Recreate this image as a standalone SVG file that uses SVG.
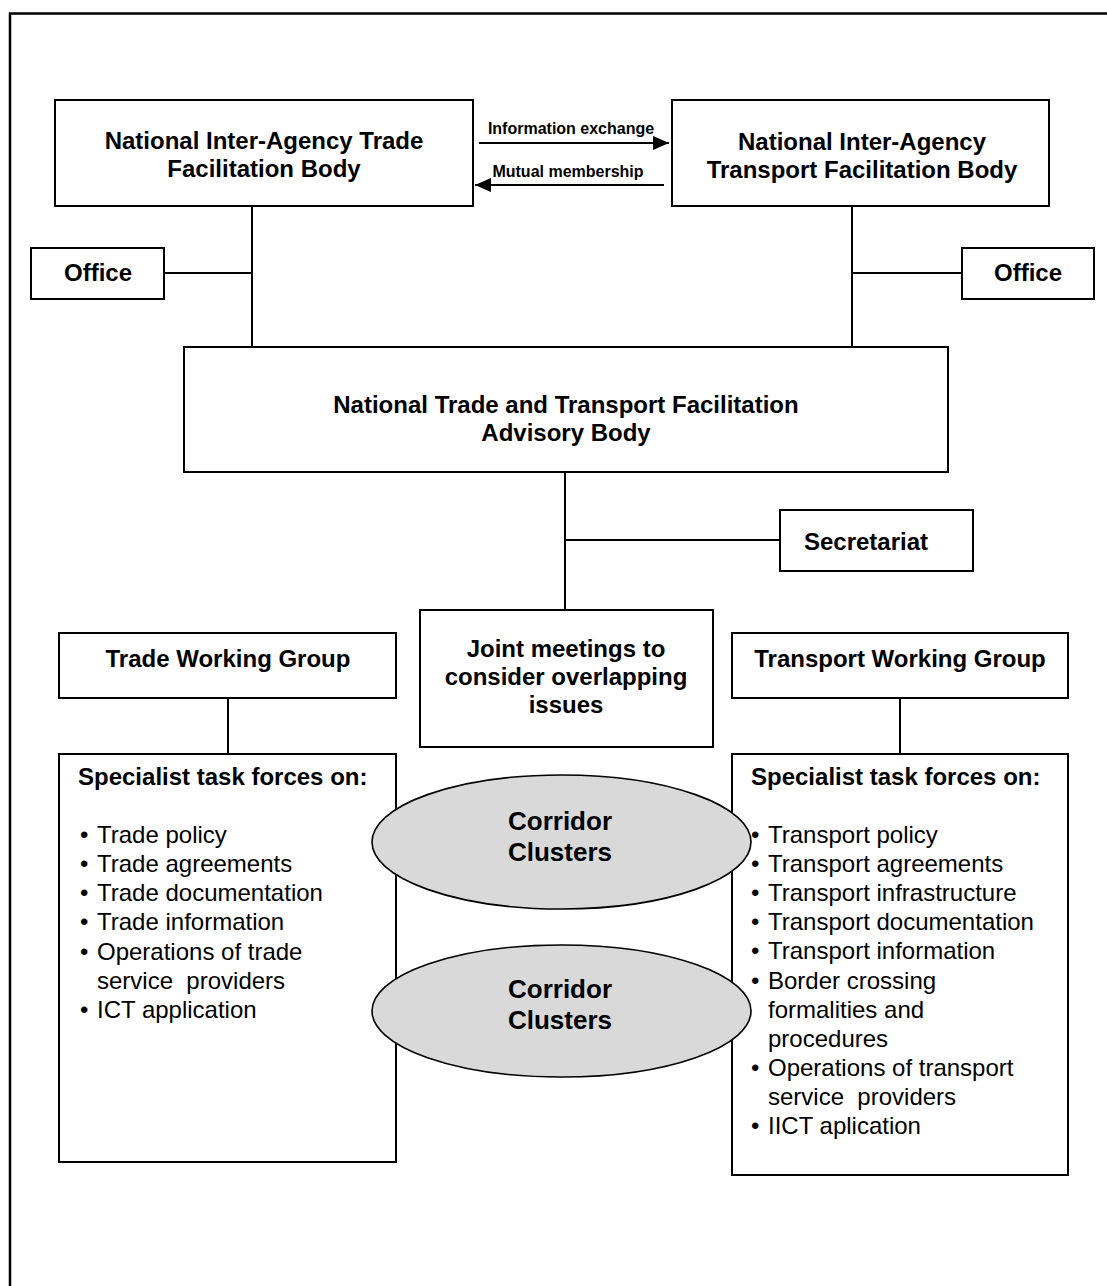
<svg xmlns="http://www.w3.org/2000/svg" width="1107" height="1286" viewBox="0 0 1107 1286">
  <defs>
    <style>
      .box { fill: #ffffff; stroke: #000000; stroke-width: 2; }
      .link { stroke: #000000; stroke-width: 2; fill: none; }
      .frame { stroke: #000000; stroke-width: 2.5; fill: none; }
      .oval { fill: #d9d9d9; stroke: #000000; stroke-width: 1.6; }
      .t { font-family: "Liberation Sans", Arial, sans-serif; font-size: 24px; fill: #000000; }
      .b { font-weight: bold; }
      .c { text-anchor: middle; }
      .lbl { font-family: "Liberation Sans", Arial, sans-serif; font-size: 16px; font-weight: bold; fill: #000000; text-anchor: middle; }
      .oc { font-family: "Liberation Sans", Arial, sans-serif; font-size: 26px; font-weight: bold; fill: #000000; text-anchor: middle; }
    </style>
    <marker id="head" viewBox="0 0 10 10" refX="10" refY="5" markerWidth="8" markerHeight="8" markerUnits="userSpaceOnUse" orient="auto">
      <path d="M0,0 L10,5 L0,10 z" fill="#000000"/>
    </marker>
    <marker id="arrow" viewBox="0 0 16 14" refX="16" refY="7" markerWidth="16" markerHeight="14" markerUnits="userSpaceOnUse" orient="auto">
      <path d="M0,0 L16,7 L0,14 z" fill="#000000"/>
    </marker>
  </defs>

  <!-- page frame: top and left rules only -->
  <path class="frame" d="M10,1286 V13.5 H1107"/>

  <!-- connectors -->
  <g id="connectors">
    <line class="link" x1="479" y1="143" x2="669" y2="143" marker-end="url(#arrow)"/>
    <line class="link" x1="664" y1="185" x2="475" y2="185" marker-end="url(#arrow)"/>
    <text class="lbl" x="571" y="134">Information exchange</text>
    <text class="lbl" x="568" y="177">Mutual membership</text>
    <!-- trade body down to advisory body, with office branch -->
    <line class="link" x1="252" y1="206" x2="252" y2="347"/>
    <line class="link" x1="164" y1="273" x2="252" y2="273"/>
    <!-- transport body down to advisory body, with office branch -->
    <line class="link" x1="852" y1="206" x2="852" y2="347"/>
    <line class="link" x1="852" y1="273" x2="962" y2="273"/>
    <!-- advisory body to joint meetings, secretariat branch -->
    <line class="link" x1="565" y1="472" x2="565" y2="610"/>
    <line class="link" x1="565" y1="540" x2="780" y2="540"/>
    <!-- working groups to task forces -->
    <line class="link" x1="228" y1="698" x2="228" y2="754"/>
    <line class="link" x1="900" y1="698" x2="900" y2="754"/>
  </g>

  <g id="trade-body">
    <rect class="box" x="55" y="100" width="418" height="106"/>
    <text class="t b c" x="264" y="149">National Inter-Agency Trade</text>
    <text class="t b c" x="264" y="177">Facilitation Body</text>
  </g>

  <g id="transport-body">
    <rect class="box" x="672" y="100" width="377" height="106"/>
    <text class="t b c" x="862" y="150">National Inter-Agency</text>
    <text class="t b c" x="862" y="178">Transport Facilitation Body</text>
  </g>

  <g id="office-left">
    <rect class="box" x="31" y="248" width="133" height="51"/>
    <text class="t b c" x="98" y="281">Office</text>
  </g>

  <g id="office-right">
    <rect class="box" x="962" y="248" width="132" height="51"/>
    <text class="t b c" x="1028" y="281">Office</text>
  </g>

  <g id="advisory-body">
    <rect class="box" x="184" y="347" width="764" height="125"/>
    <text class="t b c" x="566" y="413">National Trade and Transport Facilitation</text>
    <text class="t b c" x="566" y="441">Advisory Body</text>
  </g>

  <g id="secretariat">
    <rect class="box" x="780" y="510" width="193" height="61"/>
    <text class="t b c" x="866" y="550">Secretariat</text>
  </g>

  <g id="joint-meetings">
    <rect class="box" x="420" y="610" width="293" height="137"/>
    <text class="t b c" x="566" y="657">Joint meetings to</text>
    <text class="t b c" x="566" y="685">consider overlapping</text>
    <text class="t b c" x="566" y="713">issues</text>
  </g>

  <g id="trade-working-group">
    <rect class="box" x="59" y="633" width="337" height="65"/>
    <text class="t b c" x="228" y="667">Trade Working Group</text>
  </g>

  <g id="transport-working-group">
    <rect class="box" x="732" y="633" width="336" height="65"/>
    <text class="t b c" x="900" y="667">Transport Working Group</text>
  </g>

  <g id="trade-task-forces">
    <rect class="box" x="59" y="754" width="337" height="408"/>
    <text class="t b" x="78" y="785">Specialist task forces on:</text>
    <g class="t">
      <text x="80" y="843">•</text><text x="97" y="843">Trade policy</text>
      <text x="80" y="872">•</text><text x="97" y="872">Trade agreements</text>
      <text x="80" y="901">•</text><text x="97" y="901">Trade documentation</text>
      <text x="80" y="930">•</text><text x="97" y="930">Trade information</text>
      <text x="80" y="960">•</text><text x="97" y="960">Operations of trade</text>
      <text x="97" y="989" xml:space="preserve">service  providers</text>
      <text x="80" y="1018">•</text><text x="97" y="1018">ICT application</text>
    </g>
  </g>

  <g id="transport-task-forces">
    <rect class="box" x="732" y="754" width="336" height="421"/>
    <text class="t b" x="751" y="785">Specialist task forces on:</text>
    <g class="t">
      <text x="751" y="843">•</text><text x="768" y="843">Transport policy</text>
      <text x="751" y="872">•</text><text x="768" y="872">Transport agreements</text>
      <text x="751" y="901">•</text><text x="768" y="901">Transport infrastructure</text>
      <text x="751" y="930">•</text><text x="768" y="930">Transport documentation</text>
      <text x="751" y="959">•</text><text x="768" y="959">Transport information</text>
      <text x="751" y="989">•</text><text x="768" y="989">Border crossing</text>
      <text x="768" y="1018">formalities and</text>
      <text x="768" y="1047">procedures</text>
      <text x="751" y="1076">•</text><text x="768" y="1076">Operations of transport</text>
      <text x="768" y="1105" xml:space="preserve">service  providers</text>
      <text x="751" y="1134">•</text><text x="768" y="1134">IICT aplication</text>
    </g>
  </g>

  <g id="corridor-clusters-1">
    <ellipse class="oval" cx="561.5" cy="842" rx="189.5" ry="67"/>
    <text class="oc" x="560" y="830">Corridor</text>
    <text class="oc" x="560" y="861">Clusters</text>
  </g>

  <g id="corridor-clusters-2">
    <ellipse class="oval" cx="561.5" cy="1011" rx="189.5" ry="66"/>
    <text class="oc" x="560" y="998">Corridor</text>
    <text class="oc" x="560" y="1029">Clusters</text>
  </g>
</svg>
